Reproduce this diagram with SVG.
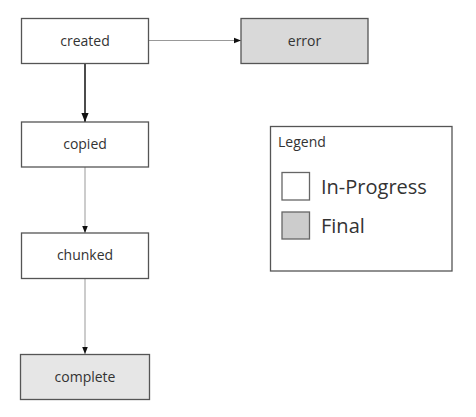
<svg xmlns="http://www.w3.org/2000/svg" width="476" height="417" viewBox="0 0 476 417">
<style>
.node{stroke:#555;stroke-width:1.3}
.lbl{font-family:"Open Sans",sans-serif;font-size:14px;fill:#333;text-anchor:middle;dominant-baseline:central}
.edge{fill:none;stroke:#999;stroke-width:1}
.strong{fill:none;stroke:#111;stroke-width:1.5}
</style>
<defs>
<marker id="ah" viewBox="0 0 10 10" refX="10" refY="5" markerWidth="7" markerHeight="7" markerUnits="userSpaceOnUse" orient="auto"><path d="M0,1 L10,5 L0,9 z" fill="#111"/></marker>
<marker id="ah2" viewBox="0 0 10 10" refX="10" refY="5" markerWidth="9" markerHeight="9" markerUnits="userSpaceOnUse" orient="auto"><path d="M0,1 L10,5 L0,9 z" fill="#111"/></marker>
</defs>
<rect width="476" height="417" fill="#fff"/>
<g id="connectors">
<path class="edge" d="M148,40.5 L241,40.5" marker-end="url(#ah)"/>
<path class="strong" d="M85,63 L85,122" marker-end="url(#ah2)"/>
<path class="edge" d="M85,167 L85,233" marker-end="url(#ah)"/>
<path class="edge" d="M85,279 L85,354" marker-end="url(#ah)"/>
</g>
<g id="created"><rect class="node" x="21.5" y="18.5" width="127" height="45" fill="#fff"/><text class="lbl" x="85" y="40">created</text></g>
<g id="error"><rect class="node" x="241" y="18.5" width="127" height="45" fill="#d9d9d9"/><text class="lbl" x="304.5" y="40">error</text></g>
<g id="copied"><rect class="node" x="21.5" y="122" width="127" height="45" fill="#fff"/><text class="lbl" x="85" y="143.5">copied</text></g>
<g id="chunked"><rect class="node" x="21.5" y="233" width="127" height="45.5" fill="#fff"/><text class="lbl" x="85" y="254.5">chunked</text></g>
<g id="complete"><rect class="node" x="20.5" y="354.5" width="129" height="45" fill="#e6e6e6"/><text class="lbl" x="85" y="376.5">complete</text></g>
<g id="legend">
<rect x="270.5" y="126.5" width="181.5" height="144.5" fill="#fff" stroke="#555" stroke-width="1.3"/>
<text x="278" y="146.5" style="font-family:'Open Sans',sans-serif;font-size:14px;fill:#333">Legend</text>
<rect x="282" y="172.5" width="27.5" height="27.5" fill="#fff" stroke="#666" stroke-width="1.3"/>
<text x="321" y="193.5" style="font-family:'Open Sans',sans-serif;font-size:20px;fill:#333">In-Progress</text>
<rect x="282" y="212" width="27.5" height="27" fill="#cccccc" stroke="#666" stroke-width="1.3"/>
<text x="321" y="233" style="font-family:'Open Sans',sans-serif;font-size:20px;fill:#333">Final</text>
</g>
</svg>
